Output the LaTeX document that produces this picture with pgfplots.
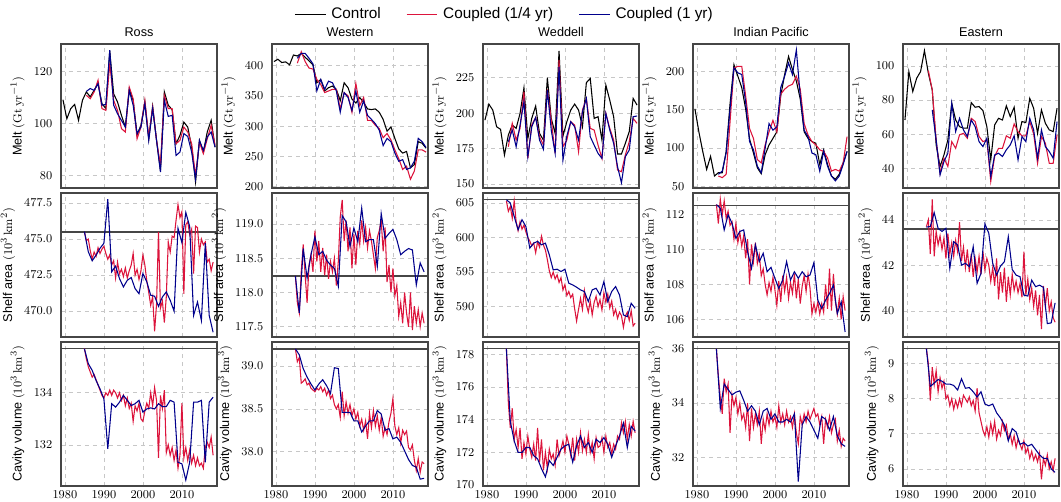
\documentclass[border=0pt]{standalone}
\usepackage[no-math]{fontspec}
\setmainfont{Liberation Sans}
\usepackage{pgfplots}
\pgfplotsset{compat=1.18}
\definecolor{cRed}{RGB}{220,20,60}
\definecolor{cBlue}{RGB}{0,0,140}
\definecolor{frame}{RGB}{70,70,70}
\pgfplotsset{
  panel/.style={
    scale only axis, width=117pt, height=108pt, anchor=north west,
    xmin=1979, xmax=2019, xtick={1980,1990,2000,2010},
    grid=major, grid style={dashed, black!22, line width=0.5pt},
    axis line style={frame, line width=1pt},
    major tick length=0pt,
    tick label style={font=\fontsize{9}{10}\selectfont},
    yticklabel style={xshift=-3pt},
    /pgf/number format/1000 sep={},
    label style={font=\fontsize{9.5}{11}\selectfont},
    title style={font=\fontsize{9.5}{11}\selectfont, yshift=-4pt},
  },
  nolab/.style={xticklabels={}},
  dec/.style={yticklabel style={/pgf/number format/.cd, fixed, fixed zerofill, precision=1}},
  ctl/.style={black, line width=0.8pt},
  qtr/.style={cRed, line width=0.8pt},
  ann/.style={cBlue, line width=0.8pt},
  ref/.style={frame, line width=1pt},
}
\newcommand{\melt}{Melt $(\mathrm{Gt\,yr^{-1}})$}
\newcommand{\shelf}{Shelf area $(10^3\,\mathrm{km^2})$}
\newcommand{\cavity}{Cavity volume $(10^3\,\mathrm{km^3})$}
\begin{document}
\begin{tikzpicture}
\useasboundingbox (0pt,0pt) rectangle (795.75pt,-375.75pt);

% ---------------- row 1: melt ----------------
\begin{axis}[panel, nolab, at={(45.75pt,-33pt)}, title={Ross}, ylabel={\melt},
  ymin=75.3, ymax=130.6, ytick={80,100,120}]
\addplot[ctl] coordinates {(1979.5,109.2)(1980.5,101.9)(1981.5,105.8)(1982.5,107.4)(1983.5,101.3)(1984.5,109.0)(1985.5,112.2)(1986.5,110.3)(1987.5,112.8)(1988.5,115.4)(1989.5,107.7)(1990.5,105.8)(1991.5,127.9)(1992.5,111.5)(1993.5,108.3)(1994.5,103.2)(1995.5,98.7)(1996.5,113.1)(1997.5,109.0)(1998.5,95.8)(1999.5,99.4)(2000.5,108.3)(2001.5,94.2)(2002.5,106.7)(2003.5,93.6)(2004.5,82.1)(2005.5,112.2)(2006.5,107.1)(2007.5,105.4)(2008.5,92.3)(2009.5,95.5)(2010.5,100.6)(2011.5,98.7)(2012.5,91.0)(2013.5,77.6)(2014.5,93.6)(2015.5,89.1)(2016.5,96.8)(2017.5,101.3)(2018.5,91.0)};
\addplot[qtr] coordinates {(1985.5,110.9)(1986.5,109.6)(1987.5,112.2)(1988.5,116.7)(1989.5,105.8)(1990.5,105.1)(1991.5,123.1)(1992.5,109.0)(1993.5,105.1)(1994.5,98.1)(1995.5,96.8)(1996.5,114.1)(1997.5,109.6)(1998.5,94.2)(1999.5,98.7)(2000.5,109.0)(2001.5,94.9)(2002.5,106.4)(2003.5,93.6)(2004.5,84.0)(2005.5,110.9)(2006.5,105.8)(2007.5,105.8)(2008.5,92.3)(2009.5,93.6)(2010.5,98.7)(2011.5,96.8)(2012.5,92.3)(2013.5,80.1)(2014.5,92.9)(2015.5,88.5)(2016.5,94.2)(2017.5,99.4)(2018.5,91.7)};
\addplot[ann] coordinates {(1985.5,112.4)(1986.5,113.5)(1987.5,112.8)(1988.5,115.4)(1989.5,107.1)(1990.5,107.4)(1991.5,128.2)(1992.5,107.1)(1993.5,103.8)(1994.5,101.3)(1995.5,98.7)(1996.5,112.8)(1997.5,107.1)(1998.5,96.2)(1999.5,98.7)(2000.5,107.7)(2001.5,93.6)(2002.5,105.8)(2003.5,93.6)(2004.5,81.4)(2005.5,109.0)(2006.5,102.8)(2007.5,103.2)(2008.5,87.8)(2009.5,89.1)(2010.5,96.2)(2011.5,95.1)(2012.5,89.1)(2013.5,78.8)(2014.5,93.6)(2015.5,89.7)(2016.5,94.9)(2017.5,96.8)(2018.5,91.0)};
\end{axis}

\begin{axis}[panel, nolab, at={(204pt,-33pt)}, title={Western}, ylabel={\melt},
  ymin=198, ymax=436, ytick={200,250,300,350,400}]
\addplot[ctl] coordinates {(1979.5,407.0)(1980.5,410.8)(1981.5,405.4)(1982.5,406.5)(1983.5,401.6)(1984.5,417.8)(1985.5,416.2)(1986.5,420.5)(1987.5,414.1)(1988.5,408.1)(1989.5,401.6)(1990.5,371.9)(1991.5,377.3)(1992.5,358.4)(1993.5,363.8)(1994.5,366.5)(1995.5,361.1)(1996.5,342.2)(1997.5,371.9)(1998.5,363.8)(1999.5,344.9)(2000.5,338.4)(2001.5,347.6)(2002.5,339.5)(2003.5,328.7)(2004.5,327.6)(2005.5,328.7)(2006.5,323.2)(2007.5,311.4)(2008.5,291.9)(2009.5,298.9)(2010.5,280.0)(2011.5,262.7)(2012.5,255.7)(2013.5,258.4)(2014.5,231.4)(2015.5,236.8)(2016.5,274.6)(2017.5,271.9)(2018.5,263.8)};
\addplot[qtr] coordinates {(1985.5,404.3)(1986.5,423.2)(1987.5,407.0)(1988.5,396.2)(1989.5,394.6)(1990.5,377.3)(1991.5,369.2)(1992.5,355.7)(1993.5,358.4)(1994.5,361.1)(1995.5,361.1)(1996.5,328.7)(1997.5,355.7)(1998.5,350.3)(1999.5,323.2)(2000.5,370.8)(2001.5,334.1)(2002.5,347.6)(2003.5,309.7)(2004.5,309.7)(2005.5,301.6)(2006.5,296.2)(2007.5,281.1)(2008.5,288.1)(2009.5,277.3)(2010.5,261.1)(2011.5,246.5)(2012.5,228.7)(2013.5,234.1)(2014.5,212.5)(2015.5,226.0)(2016.5,261.1)(2017.5,261.1)(2018.5,257.3)};
\addplot[ann] coordinates {(1985.5,412.4)(1986.5,420.5)(1987.5,420.5)(1988.5,412.4)(1989.5,403.2)(1990.5,358.4)(1991.5,377.3)(1992.5,361.1)(1993.5,374.6)(1994.5,371.9)(1995.5,358.4)(1996.5,323.2)(1997.5,355.7)(1998.5,347.6)(1999.5,326.0)(2000.5,358.4)(2001.5,323.2)(2002.5,342.2)(2003.5,317.8)(2004.5,311.4)(2005.5,304.3)(2006.5,293.5)(2007.5,268.1)(2008.5,280.0)(2009.5,274.6)(2010.5,255.7)(2011.5,242.2)(2012.5,244.9)(2013.5,228.7)(2014.5,231.4)(2015.5,242.2)(2016.5,280.0)(2017.5,274.6)(2018.5,264.9)};
\end{axis}

\begin{axis}[panel, nolab, at={(362.25pt,-33pt)}, title={Weddell}, ylabel={\melt},
  ymin=147.2, ymax=248.8, ytick={150,175,200,225},
  legend style={at={(0.14,1.208)}, anchor=center, draw=none, fill=none,
    legend columns=3, font=\fontsize{11.5}{13}\selectfont,
    /tikz/every even column/.append style={column sep=17pt},
    /tikz/every odd column/.append style={column sep=2pt}},
  legend image code/.code={\draw[#1] (0pt,0pt) -- (23pt,0pt);}]
\addplot[ctl] coordinates {(1979.5,195.1)(1980.5,206.4)(1981.5,202.2)(1982.5,190.4)(1983.5,188.6)(1984.5,170.5)(1985.5,184.6)(1986.5,191.6)(1987.5,189.3)(1988.5,199.8)(1989.5,217.9)(1990.5,182.2)(1991.5,196.3)(1992.5,205.0)(1993.5,185.7)(1994.5,181.0)(1995.5,225.0)(1996.5,196.3)(1997.5,185.7)(1998.5,244.0)(1999.5,183.9)(2000.5,194.0)(2001.5,202.2)(2002.5,206.4)(2003.5,202.2)(2004.5,190.4)(2005.5,221.5)(2006.5,224.5)(2007.5,196.3)(2008.5,197.5)(2009.5,181.0)(2010.5,219.8)(2011.5,209.2)(2012.5,197.5)(2013.5,171.2)(2014.5,171.2)(2015.5,178.7)(2016.5,187.0)(2017.5,210.4)(2018.5,205.7)};
\addlegendentry{Control}
\addplot[qtr] coordinates {(1985.5,176.3)(1986.5,192.8)(1987.5,181.0)(1988.5,189.3)(1989.5,215.1)(1990.5,168.1)(1991.5,191.6)(1992.5,197.0)(1993.5,183.4)(1994.5,177.5)(1995.5,216.8)(1996.5,195.1)(1997.5,171.6)(1998.5,237.5)(1999.5,176.3)(2000.5,181.0)(2001.5,194.0)(2002.5,191.6)(2003.5,172.8)(2004.5,202.2)(2005.5,210.4)(2006.5,189.3)(2007.5,188.1)(2008.5,177.5)(2009.5,168.1)(2010.5,199.8)(2011.5,189.3)(2012.5,181.0)(2013.5,159.9)(2014.5,158.7)(2015.5,170.5)(2016.5,179.9)(2017.5,196.3)(2018.5,192.8)};
\addlegendentry{Coupled (1/4 yr)}
\addplot[ann] coordinates {(1985.5,179.9)(1986.5,188.1)(1987.5,176.3)(1988.5,191.6)(1989.5,208.1)(1990.5,169.3)(1991.5,190.4)(1992.5,197.0)(1993.5,181.0)(1994.5,174.5)(1995.5,216.3)(1996.5,188.1)(1997.5,171.6)(1998.5,232.8)(1999.5,166.9)(2000.5,183.9)(2001.5,194.0)(2002.5,190.4)(2003.5,181.0)(2004.5,201.0)(2005.5,210.4)(2006.5,183.4)(2007.5,177.5)(2008.5,171.6)(2009.5,168.1)(2010.5,199.8)(2011.5,188.1)(2012.5,178.7)(2013.5,162.2)(2014.5,150.9)(2015.5,169.3)(2016.5,174.0)(2017.5,197.5)(2018.5,198.0)};
\addlegendentry{Coupled (1 yr)}
\end{axis}

\begin{axis}[panel, nolab, at={(519.75pt,-33pt)}, title={Indian Pacific}, ylabel={\melt},
  ymin=48, ymax=235.4, ytick={50,100,150,200}]
\addplot[ctl] coordinates {(1979.5,151.0)(1980.5,121.2)(1981.5,95.6)(1982.5,72.2)(1983.5,89.2)(1984.5,63.6)(1985.5,67.9)(1986.5,67.9)(1987.5,95.6)(1988.5,157.4)(1989.5,208.5)(1990.5,193.6)(1991.5,178.7)(1992.5,151.0)(1993.5,111.8)(1994.5,93.5)(1995.5,74.3)(1996.5,66.6)(1997.5,91.3)(1998.5,104.1)(1999.5,112.6)(2000.5,121.2)(2001.5,168.0)(2002.5,195.7)(2003.5,219.2)(2004.5,202.1)(2005.5,187.2)(2006.5,163.8)(2007.5,121.2)(2008.5,112.6)(2009.5,108.4)(2010.5,106.3)(2011.5,78.6)(2012.5,97.7)(2013.5,78.6)(2014.5,63.6)(2015.5,59.4)(2016.5,65.8)(2017.5,80.7)(2018.5,95.6)};
\addplot[qtr] coordinates {(1985.5,63.6)(1986.5,61.5)(1987.5,65.8)(1988.5,134.0)(1989.5,204.3)(1990.5,206.4)(1991.5,206.4)(1992.5,168.0)(1993.5,125.4)(1994.5,112.6)(1995.5,85.0)(1996.5,80.7)(1997.5,104.1)(1998.5,121.2)(1999.5,136.1)(2000.5,121.2)(2001.5,170.2)(2002.5,176.6)(2003.5,180.8)(2004.5,183.0)(2005.5,193.6)(2006.5,176.6)(2007.5,131.8)(2008.5,116.9)(2009.5,108.4)(2010.5,104.1)(2011.5,97.7)(2012.5,95.6)(2013.5,87.1)(2014.5,70.0)(2015.5,72.2)(2016.5,70.0)(2017.5,80.7)(2018.5,114.8)};
\addplot[ann] coordinates {(1985.5,65.8)(1986.5,70.0)(1987.5,93.5)(1988.5,151.0)(1989.5,204.3)(1990.5,197.9)(1991.5,195.7)(1992.5,159.5)(1993.5,108.4)(1994.5,97.7)(1995.5,76.4)(1996.5,67.9)(1997.5,99.9)(1998.5,131.8)(1999.5,123.3)(2000.5,127.6)(2001.5,178.7)(2002.5,193.6)(2003.5,210.7)(2004.5,195.7)(2005.5,227.7)(2006.5,168.0)(2007.5,123.3)(2008.5,114.8)(2009.5,93.5)(2010.5,91.3)(2011.5,70.0)(2012.5,95.6)(2013.5,76.4)(2014.5,63.6)(2015.5,57.3)(2016.5,63.6)(2017.5,78.6)(2018.5,95.6)};
\end{axis}

\begin{axis}[panel, nolab, at={(677.25pt,-33pt)}, title={Eastern}, ylabel={\melt},
  ymin=28.4, ymax=112.9, ytick={40,60,80,100}]
\addplot[ctl] coordinates {(1979.5,68.3)(1980.5,96.7)(1981.5,85.0)(1982.5,92.8)(1983.5,96.7)(1984.5,109.0)(1985.5,95.7)(1986.5,85.9)(1987.5,53.7)(1988.5,41.0)(1989.5,47.8)(1990.5,56.6)(1991.5,78.1)(1992.5,68.3)(1993.5,64.4)(1994.5,63.5)(1995.5,63.5)(1996.5,78.5)(1997.5,75.8)(1998.5,76.2)(1999.5,73.8)(2000.5,64.4)(2001.5,44.9)(2002.5,65.4)(2003.5,69.3)(2004.5,68.3)(2005.5,76.6)(2006.5,70.3)(2007.5,75.8)(2008.5,57.6)(2009.5,67.4)(2010.5,66.8)(2011.5,81.0)(2012.5,75.2)(2013.5,60.5)(2014.5,74.2)(2015.5,66.4)(2016.5,62.5)(2017.5,61.5)(2018.5,75.2)};
\addplot[qtr] coordinates {(1985.5,97.3)(1986.5,85.9)(1987.5,56.6)(1988.5,37.1)(1989.5,45.9)(1990.5,41.0)(1991.5,55.6)(1992.5,51.7)(1993.5,59.6)(1994.5,60.5)(1995.5,57.6)(1996.5,69.3)(1997.5,67.4)(1998.5,58.6)(1999.5,55.6)(2000.5,56.6)(2001.5,32.2)(2002.5,46.9)(2003.5,51.7)(2004.5,51.7)(2005.5,59.0)(2006.5,57.6)(2007.5,66.0)(2008.5,61.5)(2009.5,59.0)(2010.5,59.0)(2011.5,67.4)(2012.5,60.1)(2013.5,42.9)(2014.5,58.6)(2015.5,54.7)(2016.5,42.9)(2017.5,42.9)(2018.5,59.6)};
\addplot[ann] coordinates {(1986.5,74.2)(1987.5,56.6)(1988.5,36.1)(1989.5,43.9)(1990.5,48.8)(1991.5,78.1)(1992.5,61.5)(1993.5,69.3)(1994.5,62.5)(1995.5,58.6)(1996.5,68.3)(1997.5,64.4)(1998.5,55.6)(1999.5,52.7)(2000.5,57.6)(2001.5,35.1)(2002.5,47.8)(2003.5,48.8)(2004.5,46.9)(2005.5,50.8)(2006.5,53.7)(2007.5,59.0)(2008.5,44.9)(2009.5,58.6)(2010.5,55.6)(2011.5,69.3)(2012.5,62.5)(2013.5,45.9)(2014.5,62.5)(2015.5,52.7)(2016.5,49.8)(2017.5,45.9)(2018.5,67.4)};
\end{axis}

% ---------------- row 2: shelf area ----------------
\begin{axis}[panel, nolab, dec, at={(45.75pt,-144.75pt)}, ylabel={\shelf},
  ymin=468.2, ymax=478.2, ytick={470,472.5,475,477.5}]
\addplot[ref] coordinates {(1979,475.5)(2019,475.5)};
\addplot[qtr] coordinates {(1985,475.5)(1985.5,474.9)(1986,475.0)(1986.5,474.2)(1987,473.6)(1987.5,474.1)(1988,473.8)(1988.5,474.4)(1989,474.0)(1989.5,474.3)(1990,474.5)(1990.5,474.0)(1991,473.6)(1991.5,473.9)(1992,473.2)(1992.5,473.5)(1993,472.3)(1993.5,473.4)(1994,472.6)(1994.5,472.9)(1995,472.4)(1995.5,473.0)(1996,472.3)(1996.5,472.8)(1997,473.2)(1997.5,474.0)(1998,472.5)(1998.5,472.9)(1999,472.2)(1999.5,472.8)(2000,473.9)(2000.5,473.2)(2001,472.1)(2001.5,471.3)(2002,470.4)(2002.5,471.0)(2003,468.6)(2003.5,470.5)(2004,475.5)(2004.5,470.2)(2005,470.7)(2005.5,469.2)(2006,471.0)(2006.5,474.8)(2007,474.1)(2007.5,475.2)(2008,475.1)(2008.5,476.3)(2009,477.4)(2009.5,476.5)(2010,476.9)(2010.5,471.2)(2011,476.0)(2011.5,476.2)(2012,475.3)(2012.5,475.7)(2013,472.6)(2013.5,475.9)(2014,475.8)(2014.5,474.1)(2015,475.0)(2015.5,474.6)(2016,474.8)(2016.5,473.4)(2017,473.6)(2017.5,472.8)(2018,473.4)};
\addplot[ann] coordinates {(1985,475.52)(1986,474.12)(1987,473.49)(1988,473.89)(1989,474.36)(1990,474.71)(1991,477.78)(1992,472.73)(1993,473.12)(1994,472.26)(1995,471.68)(1996,472.14)(1997,472.33)(1998,471.56)(1999,471.21)(2000,472.61)(2001,472.03)(2002,471.10)(2003,471.03)(2004,470.33)(2005,470.98)(2006,471.33)(2007,470.75)(2008,470.00)(2009,475.75)(2010,474.75)(2011,476.85)(2012,475.87)(2013,469.70)(2014,470.63)(2015,469.35)(2016,474.71)(2017,469.70)(2018,468.53)};
\end{axis}

\begin{axis}[panel, nolab, dec, at={(204pt,-144.75pt)}, ylabel={\shelf},
  ymin=117.35, ymax=119.45, ytick={117.5,118,118.5,119}]
\addplot[ref] coordinates {(1979,118.24)(2019,118.24)};
\addplot[qtr] coordinates {(1985,118.24)(1985.5,117.85)(1986,117.70)(1986.5,118.30)(1987,118.70)(1987.5,118.25)(1988,117.85)(1988.5,118.40)(1989,118.55)(1989.5,118.30)(1990,118.90)(1990.5,118.45)(1991,118.75)(1991.5,118.30)(1992,118.65)(1992.5,118.25)(1993,118.55)(1993.5,118.20)(1994,118.45)(1994.5,118.30)(1995,118.50)(1995.5,118.10)(1996,118.45)(1996.5,119.10)(1997,119.35)(1997.5,118.75)(1998,119.05)(1998.5,118.60)(1999,118.95)(1999.5,118.35)(2000,118.85)(2000.5,118.40)(2001,118.90)(2001.5,118.70)(2002,119.05)(2002.5,118.75)(2003,118.95)(2003.5,118.65)(2004,118.90)(2004.5,118.75)(2005,118.55)(2005.5,118.35)(2006,118.80)(2006.5,118.90)(2007,119.05)(2007.5,118.60)(2008,118.95)(2008.5,118.15)(2009,118.40)(2009.5,118.00)(2010,118.35)(2010.5,117.95)(2011,118.10)(2011.5,117.65)(2012,117.85)(2012.5,117.55)(2013,118.00)(2013.5,117.70)(2014,117.50)(2014.5,118.00)(2015,117.45)(2015.5,117.80)(2016,117.55)(2016.5,117.75)(2017,117.50)(2017.5,117.70)(2018,117.55)};
\addplot[ann] coordinates {(1985,118.24)(1986,117.70)(1987,118.64)(1988,118.21)(1989,118.55)(1990,118.81)(1991,118.55)(1992,118.60)(1993,118.47)(1994,118.40)(1995,118.35)(1996,118.09)(1997,119.12)(1998,119.03)(1999,118.67)(2000,118.94)(2001,118.74)(2002,119.23)(2003,118.74)(2004,118.77)(2005,118.77)(2006,118.38)(2007,119.15)(2008,118.79)(2009,118.86)(2010,118.92)(2011,118.77)(2012,118.55)(2013,118.60)(2014,118.64)(2015,118.62)(2016,118.11)(2017,118.43)(2018,118.30)};
\end{axis}

\begin{axis}[panel, nolab, at={(362.25pt,-144.75pt)}, ylabel={\shelf},
  ymin=585.6, ymax=606.45, ytick={590,595,600,605}]
\addplot[ref] coordinates {(1979,605.5)(2019,605.5)};
\addplot[qtr] coordinates {(1985,605.3)(1985.5,603.8)(1986,604.5)(1986.5,602.8)(1987,605.3)(1987.5,602.3)(1988,601.0)(1988.5,602.3)(1989,601.2)(1989.5,601.8)(1990,600.8)(1990.5,600.0)(1991,599.5)(1991.5,598.8)(1992,599.2)(1992.5,597.8)(1993,599.4)(1993.5,598.6)(1994,600.2)(1994.5,598.9)(1995,598.2)(1995.5,596.8)(1996,595.2)(1996.5,594.2)(1997,595.0)(1997.5,594.0)(1998,594.6)(1998.5,593.5)(1999,594.2)(1999.5,592.4)(2000,593.2)(2000.5,591.6)(2001,592.2)(2001.5,591.3)(2002,591.8)(2002.5,589.7)(2003,587.9)(2003.5,589.6)(2004,591.2)(2004.5,589.6)(2005,592.3)(2005.5,590.3)(2006,589.2)(2006.5,590.8)(2007,588.8)(2007.5,590.6)(2008,591.5)(2008.5,590.0)(2009,591.0)(2009.5,589.5)(2010,592.0)(2010.5,590.6)(2011,591.8)(2011.5,589.8)(2012,590.8)(2012.5,588.8)(2013,589.6)(2013.5,588.3)(2014,589.2)(2014.5,588.7)(2015,587.0)(2015.5,588.6)(2016,589.2)(2016.5,588.0)(2017,589.4)(2017.5,587.2)(2018,587.6)};
\addplot[ann] coordinates {(1985,605.48)(1986,605.00)(1987,603.06)(1988,601.13)(1989,602.58)(1990,601.61)(1991,598.47)(1992,599.19)(1993,599.44)(1994,598.95)(1995,599.19)(1996,597.50)(1997,595.32)(1998,595.42)(1999,595.08)(2000,595.42)(2001,593.39)(2002,593.14)(2003,592.81)(2004,592.42)(2005,592.18)(2006,590.73)(2007,592.42)(2008,592.66)(2009,591.69)(2010,593.63)(2011,590.73)(2012,592.18)(2013,592.90)(2014,591.69)(2015,588.79)(2016,588.55)(2017,590.48)(2018,589.76)};
\end{axis}

\begin{axis}[panel, nolab, at={(519.75pt,-144.75pt)}, ylabel={\shelf},
  ymin=104.98, ymax=113.25, ytick={106,108,110,112}]
\addplot[ref] coordinates {(1979,112.54)(2019,112.54)};
\addplot[qtr] coordinates {(1985,112.6)(1985.5,111.5)(1986,112.9)(1986.5,112.0)(1987,112.8)(1987.5,111.8)(1988,112.2)(1988.5,111.4)(1989,111.6)(1989.5,110.6)(1990,111.5)(1990.5,110.4)(1991,111.0)(1991.5,110.2)(1992,110.8)(1992.5,109.5)(1993,110.6)(1993.5,108.0)(1994,110.3)(1994.5,109.3)(1995,110.4)(1995.5,109.2)(1996,109.7)(1996.5,108.5)(1997,108.9)(1997.5,108.0)(1998,107.4)(1998.5,108.1)(1999,107.6)(1999.5,108.4)(2000,107.7)(2000.5,106.8)(2001,108.2)(2001.5,107.0)(2002,108.5)(2002.5,107.6)(2003,108.4)(2003.5,107.2)(2004,108.1)(2004.5,107.5)(2005,108.6)(2005.5,107.2)(2006,108.3)(2006.5,106.9)(2007,107.9)(2007.5,108.5)(2008,107.6)(2008.5,108.6)(2009,107.8)(2009.5,106.3)(2010,106.9)(2010.5,106.4)(2011,107.0)(2011.5,106.3)(2012,106.9)(2012.5,106.4)(2013,108.0)(2013.5,106.6)(2014,108.9)(2014.5,106.5)(2015,108.6)(2015.5,107.0)(2016,106.3)(2016.5,107.2)(2017,106.0)(2017.5,107.3)(2018,106.5)};
\addplot[ann] coordinates {(1985,112.58)(1986,112.38)(1987,111.13)(1988,112.00)(1989,111.52)(1990,110.65)(1991,111.04)(1992,111.13)(1993,109.88)(1994,108.92)(1995,110.27)(1996,109.31)(1997,109.79)(1998,108.73)(1999,108.98)(2000,108.35)(2001,107.77)(2002,108.25)(2003,109.31)(2004,108.25)(2005,108.73)(2006,108.35)(2007,108.73)(2008,108.44)(2009,108.54)(2010,109.25)(2011,107.10)(2012,106.62)(2013,107.10)(2014,107.48)(2015,107.96)(2016,106.33)(2017,107.00)(2018,105.27)};
\end{axis}

\begin{axis}[panel, nolab, at={(677.25pt,-144.75pt)}, ylabel={\shelf},
  ymin=38.85, ymax=45.18, ytick={40,42,44}]
\addplot[ref] coordinates {(1979,43.6)(2019,43.6)};
\addplot[qtr] coordinates {(1985,43.7)(1985.5,44.0)(1986,42.5)(1986.5,44.9)(1987,42.4)(1987.5,43.5)(1988,42.9)(1988.5,43.3)(1989,42.7)(1989.5,43.2)(1990,42.3)(1990.5,43.4)(1991,42.5)(1991.5,43.0)(1992,42.4)(1992.5,43.1)(1993,42.6)(1993.5,43.9)(1994,42.2)(1994.5,42.8)(1995,41.9)(1995.5,42.7)(1996,41.7)(1996.5,42.5)(1997,41.5)(1997.5,42.3)(1998,41.7)(1998.5,42.4)(1999,41.6)(1999.5,42.6)(2000,41.8)(2000.5,42.3)(2001,42.0)(2001.5,41.3)(2002,41.9)(2002.5,41.1)(2003,42.3)(2003.5,40.5)(2004,41.7)(2004.5,40.8)(2005,41.9)(2005.5,40.4)(2006,41.5)(2006.5,40.7)(2007,41.6)(2007.5,40.9)(2008,41.3)(2008.5,40.8)(2009,41.2)(2009.5,40.6)(2010,42.6)(2010.5,40.7)(2011,41.4)(2011.5,40.5)(2012,41.0)(2012.5,40.2)(2013,40.9)(2013.5,39.8)(2014,40.7)(2014.5,39.2)(2015,41.1)(2015.5,40.2)(2016,41.0)(2016.5,40.0)(2017,40.4)(2017.5,39.7)(2018,39.5)};
\addplot[ann] coordinates {(1985,43.68)(1986,43.71)(1987,44.32)(1988,43.63)(1989,43.49)(1990,43.63)(1991,41.87)(1992,43.04)(1993,42.90)(1994,42.01)(1995,42.09)(1996,41.94)(1997,42.82)(1998,41.21)(1999,41.65)(2000,43.82)(2001,43.41)(2002,42.09)(2003,41.57)(2004,41.97)(2005,42.16)(2006,43.26)(2007,41.82)(2008,41.57)(2009,41.50)(2010,40.69)(2011,40.65)(2012,41.35)(2013,41.06)(2014,41.13)(2015,41.03)(2016,39.44)(2017,39.47)(2018,40.35)};
\end{axis}

% ---------------- row 3: cavity volume ----------------
\begin{axis}[panel, at={(45.75pt,-256.5pt)}, ylabel={\cavity},
  ymin=130.42, ymax=135.95, ytick={132,134}]
\addplot[ref] coordinates {(1979,135.69)(2019,135.69)};
\addplot[qtr] coordinates {(1985,135.7)(1985.5,135.3)(1986,135.0)(1986.5,134.8)(1987,134.6)(1987.5,134.7)(1988,134.5)(1988.5,134.3)(1989,134.1)(1989.5,133.9)(1990,133.8)(1990.5,134.0)(1991,133.9)(1991.5,134.1)(1992,133.9)(1992.5,134.1)(1993,134.0)(1993.5,133.8)(1994,134.0)(1994.5,133.7)(1995,133.9)(1995.5,133.5)(1996,133.8)(1996.5,133.4)(1997,133.6)(1997.5,132.9)(1998,133.5)(1998.5,133.3)(1999,133.6)(1999.5,133.0)(2000,132.9)(2000.5,133.3)(2001,133.6)(2001.5,133.4)(2002,134.0)(2002.5,133.5)(2003,134.2)(2003.5,133.7)(2004,131.5)(2004.5,133.9)(2005,133.4)(2005.5,134.1)(2006,131.7)(2006.5,132.0)(2007,131.6)(2007.5,131.9)(2008,131.4)(2008.5,131.8)(2009,131.1)(2009.5,131.6)(2010,133.6)(2010.5,131.5)(2011,131.9)(2011.5,131.4)(2012,131.8)(2012.5,131.3)(2013,131.6)(2013.5,131.2)(2014,131.5)(2014.5,131.2)(2015,131.3)(2015.5,131.1)(2016,131.9)(2016.5,132.1)(2017,131.9)(2017.5,132.3)(2018,131.6)};
\addplot[ann] coordinates {(1985,135.69)(1986,135.12)(1987,134.86)(1988,134.47)(1989,134.15)(1990,133.77)(1991,131.85)(1992,133.58)(1993,133.45)(1994,133.64)(1995,133.90)(1996,133.71)(1997,133.51)(1998,133.58)(1999,133.71)(2000,133.26)(2001,133.38)(2002,133.42)(2003,133.38)(2004,133.58)(2005,133.47)(2006,133.47)(2007,133.71)(2008,133.64)(2009,131.33)(2010,131.27)(2011,130.65)(2012,131.33)(2013,133.64)(2014,133.64)(2015,133.71)(2016,131.33)(2017,133.64)(2018,133.83)};
\end{axis}

\begin{axis}[panel, dec, at={(204pt,-256.5pt)}, ylabel={\cavity},
  ymin=37.6, ymax=39.28, ytick={38,38.5,39}]
\addplot[ref] coordinates {(1979,39.2)(2019,39.2)};
\addplot[qtr] coordinates {(1985,39.20)(1985.5,39.05)(1986,39.10)(1986.5,38.80)(1987,38.82)(1987.5,38.85)(1988,38.78)(1988.5,38.80)(1989,38.74)(1989.5,38.72)(1990,38.70)(1990.5,38.74)(1991,38.72)(1991.5,38.76)(1992,38.70)(1992.5,38.74)(1993,38.66)(1993.5,38.72)(1994,38.62)(1994.5,38.66)(1995,38.55)(1995.5,38.50)(1996,38.55)(1996.5,38.40)(1997,38.70)(1997.5,38.42)(1998,38.58)(1998.5,38.45)(1999,38.55)(1999.5,38.42)(2000,38.50)(2000.5,38.38)(2001,38.46)(2001.5,38.30)(2002,38.38)(2002.5,38.25)(2003,38.36)(2003.5,38.15)(2004,38.45)(2004.5,38.28)(2005,38.48)(2005.5,38.30)(2006,38.42)(2006.5,38.25)(2007,38.40)(2007.5,38.18)(2008,38.28)(2008.5,38.20)(2009,38.35)(2009.5,38.45)(2010,38.62)(2010.5,38.30)(2011,38.20)(2011.5,38.28)(2012,38.10)(2012.5,38.25)(2013,38.20)(2013.5,38.24)(2014,38.05)(2014.5,38.02)(2015,38.08)(2015.5,37.90)(2016,37.78)(2016.5,37.92)(2017,37.76)(2017.5,37.88)(2018,37.86)};
\addplot[ann] coordinates {(1985,39.20)(1986,39.13)(1987,38.97)(1988,38.87)(1989,38.79)(1990,38.72)(1991,38.79)(1992,38.84)(1993,38.77)(1994,38.68)(1995,38.98)(1996,38.97)(1997,38.46)(1998,38.46)(1999,38.46)(2000,38.36)(2001,38.36)(2002,38.23)(2003,38.30)(2004,38.36)(2005,38.36)(2006,38.48)(2007,38.44)(2008,38.25)(2009,38.27)(2010,38.15)(2011,38.17)(2012,38.11)(2013,38.01)(2014,37.91)(2015,37.84)(2016,37.82)(2017,37.68)(2018,37.69)};
\end{axis}

\begin{axis}[panel, at={(362.25pt,-256.5pt)}, ylabel={\cavity},
  ymin=169.94, ymax=178.76, ytick={170,172,174,176,178}]
\addplot[ref] coordinates {(1979,178.35)(2019,178.35)};
\addplot[qtr] coordinates {(1985,178.35)(1985.5,175.0)(1986,173.5)(1986.5,174.7)(1987,172.8)(1987.5,173.4)(1988,172.3)(1988.5,173.5)(1989,171.6)(1989.5,172.6)(1990,171.9)(1990.5,173.0)(1991,172.2)(1991.5,171.7)(1992,172.5)(1992.5,171.5)(1993,173.5)(1993.5,171.4)(1994,172.8)(1994.5,170.9)(1995,172.0)(1995.5,171.0)(1996,172.2)(1996.5,171.6)(1997,171.9)(1997.5,171.2)(1998,172.8)(1998.5,171.8)(1999,172.2)(1999.5,172.7)(2000,172.0)(2000.5,173.0)(2001,172.5)(2001.5,171.8)(2002,172.9)(2002.5,171.5)(2003,172.8)(2003.5,172.0)(2004,173.2)(2004.5,172.1)(2005,172.8)(2005.5,172.0)(2006,173.1)(2006.5,172.0)(2007,172.6)(2007.5,171.6)(2008,172.9)(2008.5,172.3)(2009,172.4)(2009.5,172.9)(2010,172.0)(2010.5,173.0)(2011,172.3)(2011.5,172.6)(2012,171.9)(2012.5,172.5)(2013,172.2)(2013.5,173.0)(2014,172.8)(2014.5,173.8)(2015,173.2)(2015.5,173.9)(2016,172.8)(2016.5,173.7)(2017,173.0)(2017.5,173.9)(2018,173.2)};
\addplot[ann] coordinates {(1985,178.35)(1986,173.9)(1987,172.7)(1988,172.0)(1989,172.0)(1990,172.3)(1991,172.3)(1992,171.8)(1993,171.6)(1994,171.0)(1995,170.5)(1996,171.5)(1997,171.2)(1998,171.7)(1999,172.2)(2000,172.4)(2001,172.5)(2002,171.4)(2003,172.4)(2004,173.0)(2005,172.3)(2006,172.6)(2007,172.0)(2008,172.8)(2009,172.6)(2010,172.9)(2011,172.5)(2012,171.7)(2013,172.4)(2014,173.0)(2015,173.8)(2016,172.3)(2017,173.6)(2018,173.3)};
\end{axis}

\begin{axis}[panel, at={(519.75pt,-256.5pt)}, ylabel={\cavity},
  ymin=30.94, ymax=36.25, ytick={32,34,36}]
\addplot[ref] coordinates {(1979,36.0)(2019,36.0)};
\addplot[qtr] coordinates {(1985,36.0)(1985.5,35.0)(1986,34.2)(1986.5,33.6)(1987,34.9)(1987.5,34.4)(1988,34.7)(1988.5,32.9)(1989,34.3)(1989.5,33.9)(1990,34.2)(1990.5,33.6)(1991,34.0)(1991.5,33.4)(1992,33.6)(1992.5,33.1)(1993,34.0)(1993.5,32.6)(1994,33.8)(1994.5,33.1)(1995,33.6)(1995.5,33.2)(1996,33.7)(1996.5,32.5)(1997,33.4)(1997.5,33.0)(1998,33.6)(1998.5,33.2)(1999,33.7)(1999.5,33.3)(2000,33.5)(2000.5,33.1)(2001,33.9)(2001.5,33.3)(2002,33.6)(2002.5,33.2)(2003,33.7)(2003.5,33.3)(2004,33.5)(2004.5,33.1)(2005,33.6)(2005.5,32.9)(2006,32.5)(2006.5,33.5)(2007,33.2)(2007.5,33.6)(2008,33.3)(2008.5,33.7)(2009,33.4)(2009.5,33.6)(2010,33.8)(2010.5,33.5)(2011,33.6)(2011.5,33.2)(2012,33.5)(2012.5,32.5)(2013,33.4)(2013.5,33.1)(2014,33.5)(2014.5,32.9)(2015,33.2)(2015.5,33.4)(2016,32.6)(2016.5,33.0)(2017,32.4)(2017.5,32.7)(2018,32.6)};
\addplot[ann] coordinates {(1985,36.0)(1986,33.8)(1987,34.7)(1988,34.5)(1989,34.3)(1990,34.4)(1991,34.45)(1992,34.1)(1993,33.7)(1994,33.9)(1995,33.7)(1996,33.2)(1997,33.7)(1998,33.8)(1999,33.4)(2000,33.6)(2001,33.3)(2002,33.3)(2003,33.4)(2004,33.3)(2005,33.6)(2006,31.1)(2007,33.2)(2008,33.5)(2009,33.3)(2010,33.0)(2011,32.7)(2012,33.5)(2013,33.4)(2014,33.0)(2015,33.5)(2016,32.8)(2017,32.5)(2018,32.4)};
\end{axis}

\begin{axis}[panel, at={(677.25pt,-256.5pt)}, ylabel={\cavity},
  ymin=5.51, ymax=9.62, ytick={6,7,8,9}]
\addplot[ref] coordinates {(1979,9.43)(2019,9.43)};
\addplot[qtr] coordinates {(1985,9.43)(1985.5,9.0)(1986,7.95)(1986.5,8.9)(1987,8.4)(1987.5,8.8)(1988,8.2)(1988.5,8.6)(1989,8.3)(1989.5,8.5)(1990,8.0)(1990.5,8.1)(1991,7.8)(1991.5,8.0)(1992,7.7)(1992.5,7.95)(1993,7.75)(1993.5,8.0)(1994,7.8)(1994.5,8.1)(1995,8.0)(1995.5,7.9)(1996,8.05)(1996.5,7.8)(1997,7.95)(1997.5,7.65)(1998,8.3)(1998.5,7.6)(1999,7.35)(1999.5,7.1)(2000,6.95)(2000.5,7.2)(2001,6.9)(2001.5,7.3)(2002,7.0)(2002.5,7.35)(2003,6.85)(2003.5,7.1)(2004,6.95)(2004.5,7.35)(2005,7.1)(2005.5,7.25)(2006,6.85)(2006.5,7.0)(2007,6.7)(2007.5,6.95)(2008,6.6)(2008.5,6.85)(2009,6.7)(2009.5,6.55)(2010,6.8)(2010.5,6.45)(2011,6.6)(2011.5,6.3)(2012,6.5)(2012.5,6.25)(2013,6.4)(2013.5,6.2)(2014,6.45)(2014.5,5.7)(2015,6.3)(2015.5,6.1)(2016,6.4)(2016.5,6.0)(2017,6.2)(2017.5,5.95)(2018,6.3)};
\addplot[ann] coordinates {(1985,9.43)(1986,8.35)(1987,8.45)(1988,8.55)(1989,8.5)(1990,8.42)(1991,8.42)(1992,8.38)(1993,8.25)(1994,8.57)(1995,8.3)(1996,8.32)(1997,8.2)(1998,8.05)(1999,8.2)(2000,7.85)(2001,7.8)(2002,7.85)(2003,7.6)(2004,7.45)(2005,7.25)(2006,6.8)(2007,7.15)(2008,7.05)(2009,6.7)(2010,6.75)(2011,6.65)(2012,6.7)(2013,6.55)(2014,6.4)(2015,6.3)(2016,6.3)(2017,6.0)(2018,5.9)};
\end{axis}
\end{tikzpicture}
\end{document}
